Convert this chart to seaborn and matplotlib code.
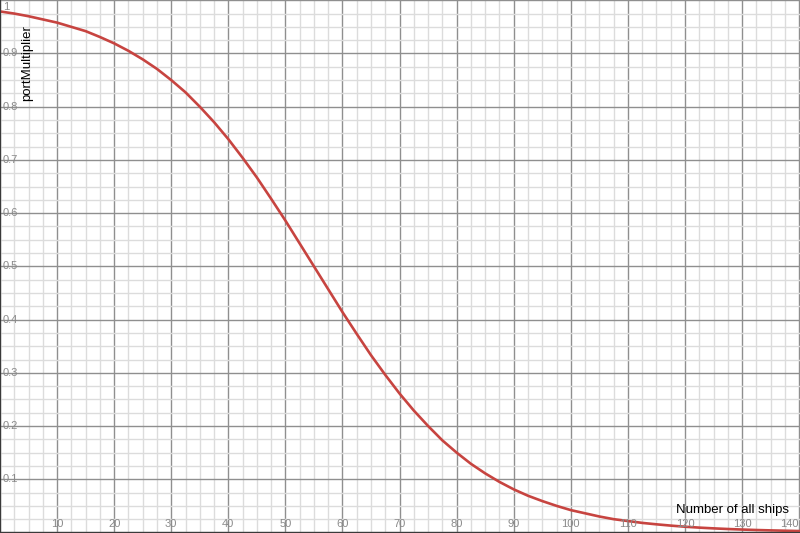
import numpy as np
import pandas as pd
import matplotlib
matplotlib.use("Agg")
import matplotlib.pyplot as plt
import seaborn as sns

# values, every 2.5 ships
ships = [0, 2.5, 5, 7.5, 10, 12.5, 15, 17.5, 20, 22.5, 25, 27.5, 30, 32.5, 35,
         37.5, 40, 42.5, 45, 47.5, 50, 52.5, 55, 57.5, 60, 62.5, 65, 67.5, 70,
         72.5, 75, 77.5, 80, 82.5, 85, 87.5, 90, 92.5, 95, 97.5, 100, 102.5,
         105, 107.5, 110, 112.5, 115, 117.5, 120, 122.5, 125, 127.5, 130,
         132.5, 135, 137.5, 140, 142.5]
port_multiplier = [0.979, 0.975, 0.970, 0.964, 0.958, 0.950, 0.942, 0.931,
                   0.919, 0.905, 0.889, 0.871, 0.850, 0.827, 0.800, 0.771,
                   0.739, 0.704, 0.667, 0.627, 0.586, 0.543, 0.500, 0.457,
                   0.414, 0.373, 0.333, 0.296, 0.261, 0.229, 0.200, 0.173,
                   0.150, 0.129, 0.111, 0.095, 0.081, 0.069, 0.059, 0.050,
                   0.042, 0.036, 0.030, 0.025, 0.0215, 0.018, 0.0153, 0.0129,
                   0.0108, 0.0091, 0.0077, 0.0065, 0.0055, 0.0046, 0.0039,
                   0.0033, 0.0027, 0.0023]

x_ticks = [10, 20, 30, 40, 50, 60, 70, 80, 90, 100, 110, 120, 130, 140]
y_ticks = [0.1, 0.2, 0.3, 0.4, 0.5, 0.6, 0.7, 0.8, 0.9]

df = pd.DataFrame({"ships": ships, "mult": port_multiplier})

sns.set_style("white")
plt.rcParams["font.family"] = ["Liberation Sans", "DejaVu Sans"]

fig = plt.figure(figsize=(8, 5.33), dpi=100)
ax = fig.add_axes([0, 0, 1, 1])

ax.set_xlim(0, 140.15)
ax.set_ylim(-0.001, 1.0005)

# grid like a graphing calculator
ax.set_xticks(np.arange(0, 141, 10))
ax.set_xticks(np.arange(0, 141, 2.5), minor=True)
ax.set_yticks(np.arange(0, 1.01, 0.1))
ax.set_yticks(np.arange(0, 1.01, 0.025), minor=True)
ax.grid(which="major", color="#8f8f8f", linewidth=1.0)
ax.grid(which="minor", color="#dcdcdc", linewidth=1.0)
ax.tick_params(which="both", length=0, labelbottom=False, labelleft=False)
ax.set_axisbelow(True)

for side in ["top", "right"]:
    ax.spines[side].set_visible(False)
for side in ["left", "bottom"]:
    ax.spines[side].set_color("#3a3a3a")
    ax.spines[side].set_linewidth(1.6)

sns.lineplot(data=df, x="ships", y="mult", color="#c74440", linewidth=1.9, ax=ax)
ax.set_xlabel("")
ax.set_ylabel("")

# tick labels
lab_col = "#8a8a8a"
for t in x_ticks:
    ha = "right" if t == 140 else "center"
    xpos = 139.9 if t == 140 else t
    ax.text(xpos, 0.016, str(t), transform=ax.get_xaxis_transform(),
            ha=ha, va="center", fontsize=8, color=lab_col)
for t in y_ticks:
    ax.text(0.003, t, f"{t:.1f}", transform=ax.get_yaxis_transform(),
            ha="left", va="center", fontsize=8, color=lab_col)
ax.text(0.004, 0.997, "1", transform=ax.transAxes, ha="left", va="top",
        fontsize=8, color=lab_col)

# axis titles
ax.text(0.034, 0.881, "portMultiplier", transform=ax.transAxes, rotation=90,
        ha="center", va="center", fontsize=9.5, color="black")
ax.text(0.9156, 0.043, "Number of all ships", transform=ax.transAxes,
        ha="center", va="center", fontsize=9.5, color="black")

fig.savefig("out.png", dpi=100)
